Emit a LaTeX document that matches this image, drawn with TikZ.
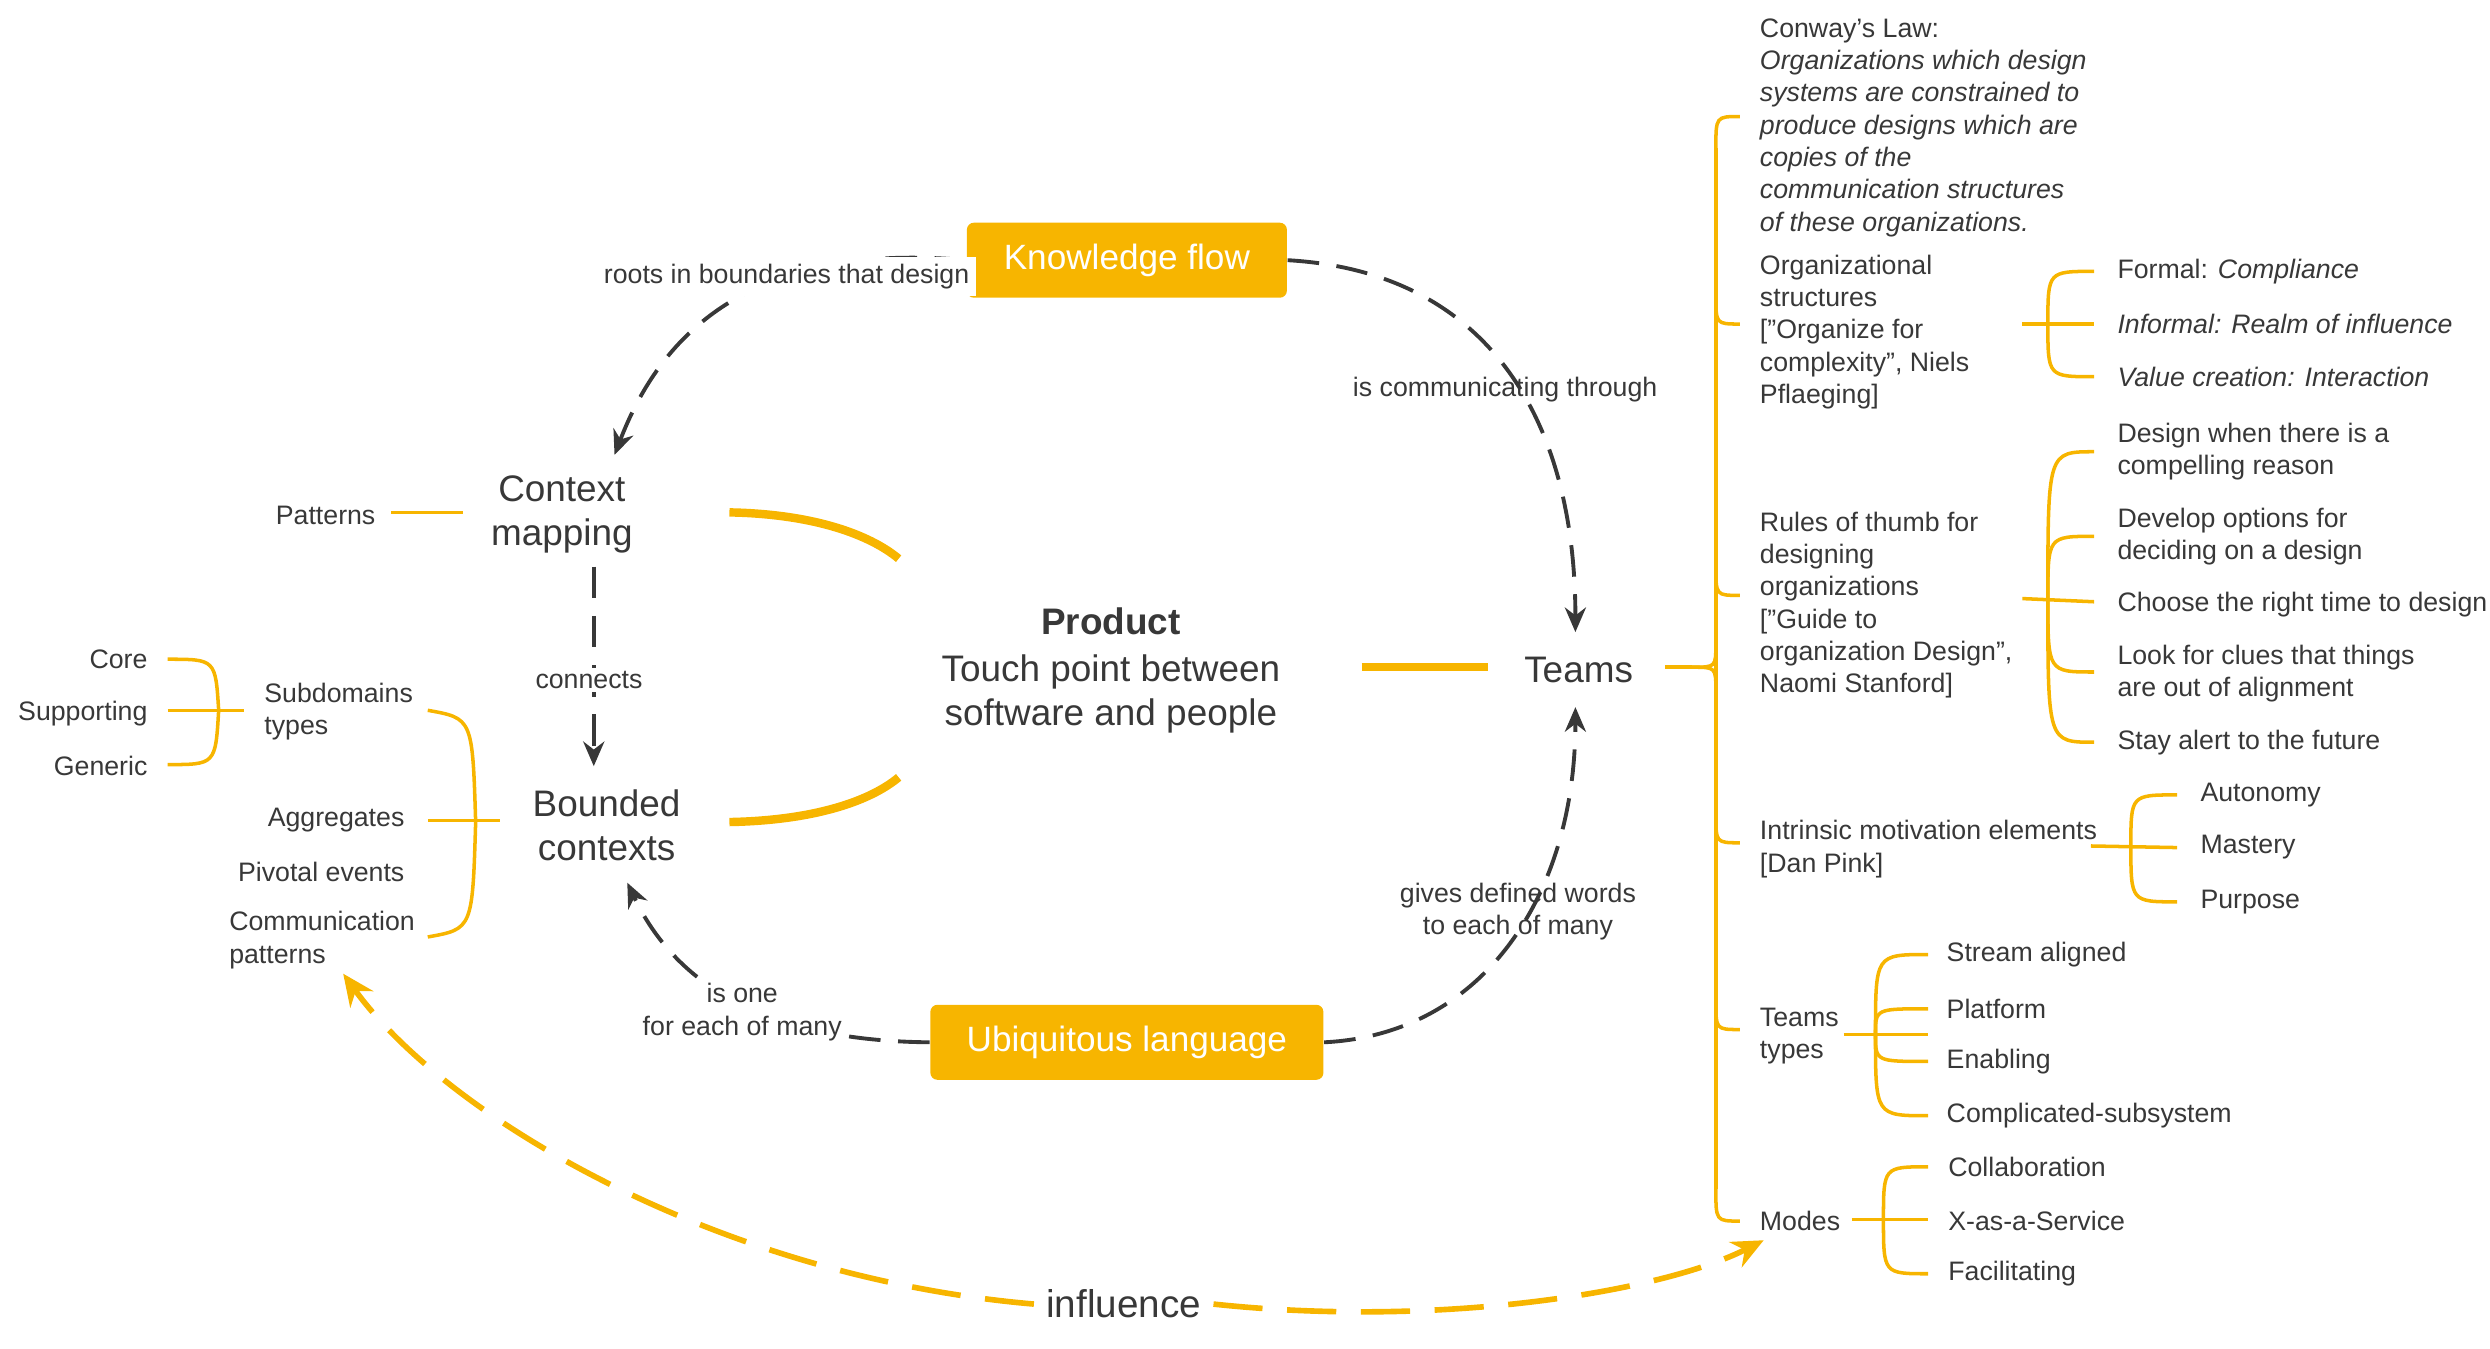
\documentclass[tikz,border=0pt]{standalone}
\usepackage{fontspec}
\setmainfont{Liberation Sans}
\usetikzlibrary{arrows.meta}
\definecolor{ylw}{HTML}{F7B500}
\definecolor{ink}{HTML}{383838}
\tikzset{
  txt/.style={text=ink, font=\fontsize{7.6}{9.2}\selectfont, align=left, inner sep=1pt},
  big/.style={text=ink, font=\fontsize{10.5}{12.5}\selectfont, align=center},
  box/.style={fill=ylw, rounded corners=2pt, text=white, font=\fontsize{10}{12}\selectfont,
    minimum height=0.75cm, inner xsep=8pt},
  br/.style={draw=ylw, line width=1pt},
  arc/.style={draw=ylw, line width=2.4pt},
  flow/.style={draw=ink, line width=1.1pt, dash pattern=on 9pt off 5pt, -{Stealth[length=7pt,width=6pt]}},
  infl/.style={draw=ylw, line width=1.6pt, dash pattern=on 14pt off 7pt, -{Stealth[length=9pt,width=8pt]}}
}
\begin{document}
\begin{tikzpicture}[x=0.01596cm,y=-0.01596cm]
  \useasboundingbox (0,0) rectangle (1560,845);

  % centre
  \node[big] (prod) at (696,420) {\textbf{Product}\\[1pt]Touch point between\\software and people};
  \node[box, minimum width=3.2cm] (kf) at (706,163) {Knowledge flow};
  \node[box, minimum width=3.93cm] (ul) at (706,653) {Ubiquitous language};
  \node[big] (cm) at (352,322) {Context\\mapping};
  \node[big] (bc) at (380,517) {Bounded\\contexts};
  \node[big] (tm) at (989,420) {Teams};
  \node[big, font=\fontsize{11}{13}\selectfont] (inf) at (704,817) {influence};

  \draw[arc] (457,321) .. controls (510,322) and (545,335) .. (563,350);
  \draw[arc] (457,515) .. controls (510,514) and (545,502) .. (563,487);
  \draw[arc] (853,418) -- (932,418);

  % dashed relations
  \draw[flow] (kf.west) .. controls (460,150) and (410,220) .. (385,285)
    node[pos=0.32, txt, fill=white, inner sep=2pt] {roots in boundaries that design};
  \draw[flow] (kf.east) .. controls (930,170) and (987,260) .. (987,396);
  \node[txt] (l1) at (943,244) {is communicating through};
  \draw[flow] (372,355) -- (372,480);
  \node[txt, fill=white] (l2) at (369,426) {connects};
  \draw[flow] (ul.west) .. controls (470,652) and (420,610) .. (393,553);
  \node[txt, align=center, fill=white] (l3) at (465,634) {is one\\for each of many};
  \draw[flow] (ul.east) .. controls (930,648) and (987,560) .. (987,443);
  \node[txt, align=center] (l4) at (951,571) {gives defined words\\to each of many};
  \draw[infl] (inf.east) .. controls (900,832) and (1040,810) .. (1105,777);
  \draw[infl] (inf.west) .. controls (450,800) and (280,700) .. (215,610);

  % left side
  \node[txt] (pat) at (204,323) {Patterns};
  \draw[br] (245,321) -- (290,321);
  \node[txt, anchor=east] (core) at (95,413) {Core};
  \node[txt, anchor=east] (sup) at (95,447) {Supporting};
  \node[txt, anchor=east] (gen) at (95,480) {Generic};
  \node[txt, anchor=west] (sdt) at (163,446) {Subdomains\\types};
  \draw[br] (105,413) .. controls (135,413) .. (137,445);
  \draw[br] (105,479) .. controls (135,479) .. (137,445);
  \draw[br] (105,445) -- (153,445);
  \node[txt, anchor=east] (agg) at (256,514) {Aggregates};
  \node[txt, anchor=east] (piv) at (256,546) {Pivotal events};
  \node[txt, anchor=west] (com) at (141,589) {Communication\\patterns};
  \draw[br] (268,445) .. controls (296,450) .. (298,515);
  \draw[br] (268,587) .. controls (296,582) .. (298,515);
  \draw[br] (268,514) -- (313,514);

  % right side
  \draw[br] (1043,418) -- (1060,418);
  \draw[br] (1060,418) .. controls (1075,418) .. (1075,403);
  \draw[br] (1060,418) .. controls (1075,418) .. (1075,433);
  \draw[br] (1075,93) -- (1075,745);
  \foreach \yy in {203,373,528,645} {
    \draw[br] (1075,\yy-18) .. controls (1075,\yy) .. (1090,\yy);
  }
  \draw[br] (1075,93) .. controls (1075,73) .. (1090,73);
  \draw[br] (1075,745) .. controls (1075,765) .. (1090,765);

  \node[txt, anchor=north west] (cw) at (1100,9) {Conway's Law:\\\itshape Organizations which design\\\itshape systems are constrained to\\\itshape produce designs which are\\\itshape copies of the\\\itshape communication structures\\\itshape of these organizations.};
  \node[txt, anchor=north west] (os) at (1100,157) {Organizational\\structures\\{}["Organize for\\complexity", Niels\\Pflaeging]};
  \node[txt, anchor=north west] (rt) at (1100,318) {Rules of thumb for\\designing\\organizations\\{}["Guide to\\organization Design",\\Naomi Stanford]};
  \node[txt, anchor=west] (im) at (1100,532) {Intrinsic motivation elements\\{}[Dan Pink]};
  \node[txt, anchor=west] (tt) at (1100,649) {Teams\\types};
  \node[txt, anchor=west] (md) at (1100,765) {Modes};

  % organizational structures
  \draw[br] (1267,203) -- (1312,203);
  \draw[br] (1283,203) .. controls (1283,170) .. (1312,170);
  \draw[br] (1283,203) .. controls (1283,236) .. (1312,236);
  \node[txt, anchor=west] (o1) at (1324,170) {Formal: \itshape Compliance};
  \node[txt, anchor=west] (o2) at (1324,203) {\itshape Informal: Realm of influence};
  \node[txt, anchor=west] (o3) at (1324,236) {\itshape Value creation: Interaction};

  % rules of thumb
  \draw[br] (1267,375) -- (1312,377);
  \draw[br] (1283,375) .. controls (1283,283) .. (1312,283);
  \draw[br] (1283,375) .. controls (1283,336) .. (1312,336);
  \draw[br] (1283,375) .. controls (1283,421) .. (1312,421);
  \draw[br] (1283,375) .. controls (1283,465) .. (1312,465);
  \node[txt, anchor=west] (r1) at (1324,283) {Design when there is a\\compelling reason};
  \node[txt, anchor=west] (r2) at (1324,336) {Develop options for\\deciding on a design};
  \node[txt, anchor=west] (r3) at (1324,379) {Choose the right time to design};
  \node[txt, anchor=west] (r4) at (1324,422) {Look for clues that things\\are out of alignment};
  \node[txt, anchor=west] (r5) at (1324,465) {Stay alert to the future};

  % intrinsic motivation
  \draw[br] (1310,530) -- (1364,531);
  \draw[br] (1335,530) .. controls (1335,498) .. (1364,498);
  \draw[br] (1335,530) .. controls (1335,565) .. (1364,565);
  \node[txt, anchor=west] (i1) at (1376,498) {Autonomy};
  \node[txt, anchor=west] (i2) at (1376,531) {Mastery};
  \node[txt, anchor=west] (i3) at (1376,565) {Purpose};

  % team types
  \draw[br] (1155,648) -- (1208,648);
  \draw[br] (1175,648) .. controls (1175,598) .. (1208,598);
  \draw[br] (1175,648) .. controls (1175,632) .. (1208,632);
  \draw[br] (1175,648) .. controls (1175,665) .. (1208,665);
  \draw[br] (1175,648) .. controls (1175,699) .. (1208,699);
  \node[txt, anchor=west] (t1) at (1217,598) {Stream aligned};
  \node[txt, anchor=west] (t2) at (1217,632) {Platform};
  \node[txt, anchor=west] (t3) at (1217,665) {Enabling};
  \node[txt, anchor=west] (t4) at (1217,699) {Complicated-subsystem};

  % modes
  \draw[br] (1160,764) -- (1208,764);
  \draw[br] (1180,764) .. controls (1180,731) .. (1208,731);
  \draw[br] (1180,764) .. controls (1180,798) .. (1208,798);
  \node[txt, anchor=west] (m1) at (1218,731) {Collaboration};
  \node[txt, anchor=west] (m2) at (1218,765) {X-as-a-Service};
  \node[txt, anchor=west] (m3) at (1218,798) {Facilitating};
\end{tikzpicture}
\end{document}
